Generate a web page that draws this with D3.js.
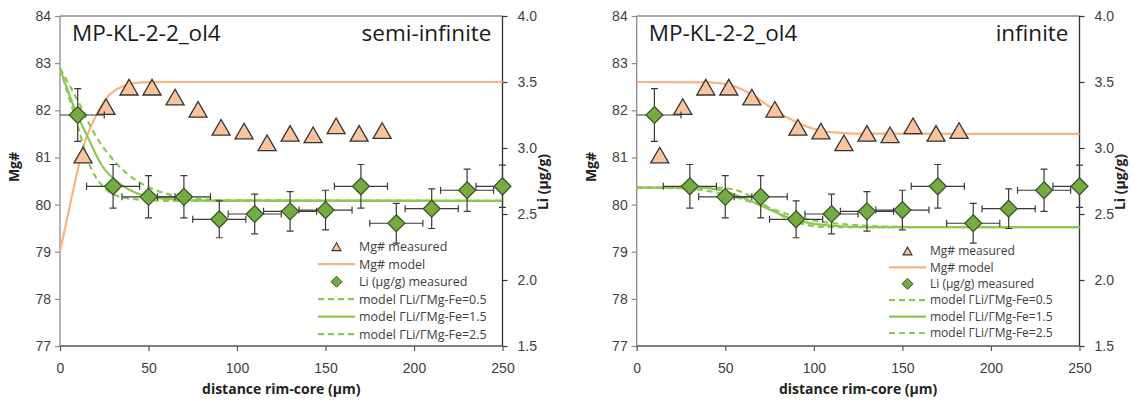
<!DOCTYPE html>
<html>
<head>
<meta charset="utf-8">
<script src="https://cdn.jsdelivr.net/npm/d3@7"></script>
<style>
  html, body { margin: 0; padding: 0; background: #ffffff; }
  svg { display: block; font-family: "Open Sans", "Noto Sans", sans-serif; }
</style>
</head>
<body>
<svg id="chart" width="1133" height="401"></svg>
<script>
// Measured Mg# profile (distance in µm)
const mgDist = [13, 26, 39, 52, 65, 78, 91, 104, 117, 130, 143, 156, 169, 182];
const mgMeasured = [81.05, 82.08, 82.49, 82.49, 82.28, 82.02, 81.64, 81.56, 81.31, 81.51, 81.48, 81.67, 81.51, 81.57];

// Measured Li profile with 1σ uncertainties
const liDist = [10, 30, 50, 70, 90, 110, 130, 150, 170, 190, 210, 230, 250];
const liMeasured = [3.25, 2.71, 2.63, 2.63, 2.46, 2.50, 2.52, 2.53, 2.71, 2.43, 2.54, 2.68, 2.71];
const liErr = [0.20, 0.165, 0.16, 0.16, 0.14, 0.15, 0.15, 0.15, 0.165, 0.15, 0.15, 0.16, 0.16];
const distErr = [15, 15, 15, 15, 15, 15, 15, 15, 15, 15, 15, 15, 15];

// Model profiles, semi-infinite geometry
const semiMgModel = [[0, 79.0], [4, 79.7], [8, 80.4], [13, 81.2], [20, 81.86], [27, 82.29], [35, 82.5], [46, 82.59], [60, 82.6], [250, 82.6]];
const semiLi05 = [[0, 3.604], [4.7, 3.40], [10.4, 3.15], [16, 2.896], [23.5, 2.72], [31, 2.644], [42.4, 2.612], [60, 2.60], [250, 2.60]];
const semiLi15 = [[0, 3.604], [7.5, 3.326], [16, 3.073], [23.5, 2.871], [34.8, 2.72], [46.1, 2.644], [59.3, 2.615], [80, 2.602], [250, 2.60]];
const semiLi25 = [[0, 3.604], [10.4, 3.35], [19.8, 3.10], [31, 2.896], [44.2, 2.745], [59.3, 2.657], [72.5, 2.623], [95, 2.604], [250, 2.60]];

// Model profiles, infinite geometry
const infMgModel = [[0, 82.6], [41, 82.59], [52.4, 82.54], [63.7, 82.36], [75, 82.08], [84.4, 81.86], [93.8, 81.69], [105, 81.56], [116.3, 81.52], [124, 81.505], [250, 81.5]];
const infLi05 = [[0, 2.70], [45, 2.70], [55, 2.685], [65, 2.63], [75, 2.545], [85, 2.465], [95, 2.42], [105, 2.403], [120, 2.40], [250, 2.40]];
const infLi15 = [[0, 2.70], [35, 2.70], [46.6, 2.682], [56, 2.644], [65.4, 2.593], [74.8, 2.535], [84.2, 2.48], [93.6, 2.442], [104.9, 2.417], [119.9, 2.404], [140, 2.40], [250, 2.40]];
const infLi25 = [[0, 2.70], [25, 2.695], [40, 2.675], [55, 2.63], [65, 2.59], [75, 2.545], [85, 2.50], [95, 2.465], [105, 2.44], [120, 2.42], [140, 2.405], [170, 2.40], [250, 2.40]];

// Axis tick values
const xTicks = [0, 50, 100, 150, 200, 250];
const mgTicks = [77, 78, 79, 80, 81, 82, 83, 84];
const liTicks = [1.5, 2.0, 2.5, 3.0, 3.5, 4.0];

const sampleName = "MP-KL-2-2_ol4";
const legendLabels = ["Mg# measured", "Mg# model", "Li (µg/g) measured",
  "model ΓLi/ΓMg-Fe=0.5", "model ΓLi/ΓMg-Fe=1.5", "model ΓLi/ΓMg-Fe=2.5"];

const panels = [
  { label: "semi-infinite", left: 60, right: 502.5, mg: semiMgModel, li: [semiLi05, semiLi15, semiLi25],
    legend: { x: 318, y0: 246.7, dy: 17.5, fs: 12.5 } },
  { label: "infinite", left: 636.7, right: 1079.5, mg: infMgModel, li: [infLi05, infLi15, infLi25],
    legend: { x: 889, y0: 251, dy: 16.4, fs: 12 } }
];

const TOP = 16, BOTTOM = 346;
const ORANGE_LINE = "#f9b382";
const ORANGE_FILL = "#fbc49c";
const GREEN_LINE = "#8dc852";
const GREEN_FILL = "#72ad3f";
const TEXT = "#404040";

const svg = d3.select("#chart");

// Triangle path centred on its bounding box
function trianglePath(w) {
  const h = w * 0.866;
  return `M0,${-h / 2}L${w / 2},${h / 2}L${-w / 2},${h / 2}Z`;
}
function diamondPath(d) {
  const r = d / 2;
  return `M0,${-r}L${r},0L0,${r}L${-r},0Z`;
}

panels.forEach(p => {
  const g = svg.append("g");
  const x = d3.scaleLinear().domain([0, 250]).range([p.left, p.right]);
  const yMg = d3.scaleLinear().domain([77, 84]).range([BOTTOM, TOP]);
  const yLi = d3.scaleLinear().domain([1.5, 4.0]).range([BOTTOM, TOP]);

  // Frame: top border line
  g.append("line").attr("x1", p.left).attr("x2", p.right).attr("y1", TOP).attr("y2", TOP)
    .attr("stroke", "#8a8a8a").attr("stroke-width", 1.3);

  // Left axis (Mg#)
  const axL = g.append("g").attr("transform", `translate(${p.left},0)`)
    .call(d3.axisLeft(yMg).tickValues(mgTicks).tickSize(5).tickPadding(4).tickFormat(d3.format("d")));
  // Right axis (Li)
  const axR = g.append("g").attr("transform", `translate(${p.right},0)`)
    .call(d3.axisRight(yLi).tickValues(liTicks).tickSize(5).tickPadding(10).tickFormat(d3.format(".1f")));
  // Bottom axis
  const axB = g.append("g").attr("transform", `translate(0,${BOTTOM})`)
    .call(d3.axisBottom(x).tickValues(xTicks).tickSize(5).tickPadding(12).tickFormat(d3.format("d")));

  [axL, axR, axB].forEach(a => {
    a.select(".domain").attr("stroke-width", 1.3);
    a.selectAll(".tick line").attr("stroke-width", 1.2);
    a.selectAll("text").attr("fill", TEXT).attr("font-size", 14);
  });
  axL.select(".domain").attr("stroke", "#8a8a8a");
  axL.selectAll(".tick line").attr("stroke", "#8a8a8a");
  axB.select(".domain").attr("stroke", "#555");
  axB.selectAll(".tick line").attr("stroke", "#555");
  axR.select(".domain").attr("stroke", "#333");
  axR.selectAll(".tick line").attr("stroke", "#333");
  axL.select(".domain").attr("d", `M0,${BOTTOM}V${TOP}`);
  axR.select(".domain").attr("d", `M0,${BOTTOM}V${TOP}`);
  axB.select(".domain").attr("d", `M${p.left},0H${p.right}`);

  // Axis titles
  g.append("text").attr("transform", `translate(${p.left - 41},167) rotate(-90)`)
    .attr("text-anchor", "middle").attr("font-weight", "bold").attr("font-size", 14)
    .attr("fill", "#222").text("Mg#");
  g.append("text").attr("transform", `translate(${p.right + 45},182) rotate(-90)`)
    .attr("text-anchor", "middle").attr("font-weight", "bold").attr("font-size", 14)
    .attr("fill", "#222").text("Li (µg/g)");
  g.append("text").attr("x", (p.left + p.right) / 2).attr("y", 394)
    .attr("text-anchor", "middle").attr("font-weight", "bold").attr("font-size", 14)
    .attr("fill", "#222").text("distance rim-core (µm)");

  // Panel labels
  g.append("text").attr("x", p.left + 12).attr("y", 40.5).attr("font-size", 22.5)
    .attr("fill", "#1a1a1a").text(sampleName);
  g.append("text").attr("x", p.right - 11).attr("y", 40.5).attr("font-size", 22.5)
    .attr("text-anchor", "end").attr("fill", "#1a1a1a").text(p.label);

  // Mg# model curve
  const lineMg = d3.line().x(d => x(d[0])).y(d => yMg(d[1])).curve(d3.curveMonotoneX);
  g.append("path").datum(p.mg).attr("d", lineMg).attr("fill", "none")
    .attr("stroke", ORANGE_LINE).attr("stroke-width", 2.2);

  // Li model curves
  const lineLi = d3.line().x(d => x(d[0])).y(d => yLi(d[1])).curve(d3.curveMonotoneX);
  const liStyles = ["6,4", null, "6,4"];
  p.li.forEach((c, i) => {
    g.append("path").datum(c).attr("d", lineLi).attr("fill", "none")
      .attr("stroke", GREEN_LINE).attr("stroke-width", 2.2)
      .attr("stroke-dasharray", liStyles[i]);
  });

  // Mg# measured triangles
  g.selectAll(".mg").data(mgDist).join("path")
    .attr("transform", (d, i) => `translate(${x(d)},${yMg(mgMeasured[i])})`)
    .attr("d", trianglePath(18)).attr("fill", ORANGE_FILL)
    .attr("stroke", "#333").attr("stroke-width", 1.3).attr("stroke-linejoin", "miter");

  // Li error bars
  const eb = g.append("g").attr("stroke", "#3a3a3a").attr("stroke-width", 1.2).attr("fill", "none");
  liDist.forEach((d, i) => {
    const cx = x(d), cy = yLi(liMeasured[i]);
    const xl = x(Math.max(0, d - distErr[i])), xr = x(Math.min(250, d + distErr[i]));
    const yt = yLi(liMeasured[i] + liErr[i]), yb = yLi(liMeasured[i] - liErr[i]);
    eb.append("path").attr("d", `M${xl},${cy}H${xr}M${cx},${yt}V${yb}`);
    const caps = `M${cx - 3.5},${yt}H${cx + 3.5}M${cx - 3.5},${yb}H${cx + 3.5}`;
    let vcaps = "";
    if (d - distErr[i] >= 0) vcaps += `M${xl},${cy - 3.5}V${cy + 3.5}`;
    if (d + distErr[i] <= 250) vcaps += `M${xr},${cy - 3.5}V${cy + 3.5}`;
    eb.append("path").attr("d", caps + vcaps);
  });

  // Li measured diamonds
  g.selectAll(".li").data(liDist).join("path")
    .attr("transform", (d, i) => `translate(${x(d)},${yLi(liMeasured[i])})`)
    .attr("d", diamondPath(17)).attr("fill", GREEN_FILL)
    .attr("stroke", "#3b4f2a").attr("stroke-width", 1.2);

  // Legend
  const L = p.legend;
  const lg = g.append("g");
  legendLabels.forEach((t, i) => {
    const yy = L.y0 + i * L.dy;
    const cx = L.x + 18.5;
    if (i === 0) {
      lg.append("path").attr("transform", `translate(${cx},${yy})`).attr("d", trianglePath(9))
        .attr("fill", ORANGE_FILL).attr("stroke", "#333").attr("stroke-width", 1.1);
    } else if (i === 2) {
      lg.append("path").attr("transform", `translate(${cx},${yy})`).attr("d", diamondPath(11))
        .attr("fill", GREEN_FILL).attr("stroke", "#3b4f2a").attr("stroke-width", 1);
    } else {
      lg.append("line").attr("x1", L.x).attr("x2", L.x + 37).attr("y1", yy).attr("y2", yy)
        .attr("stroke", i === 1 ? ORANGE_LINE : GREEN_LINE).attr("stroke-width", 2.2)
        .attr("stroke-dasharray", (i === 3 || i === 5) ? "6,4" : null);
    }
    lg.append("text").attr("x", L.x + 41).attr("y", yy).attr("dy", "0.35em")
      .attr("font-size", L.fs).attr("fill", TEXT).text(t);
  });
});
</script>
</body>
</html>
